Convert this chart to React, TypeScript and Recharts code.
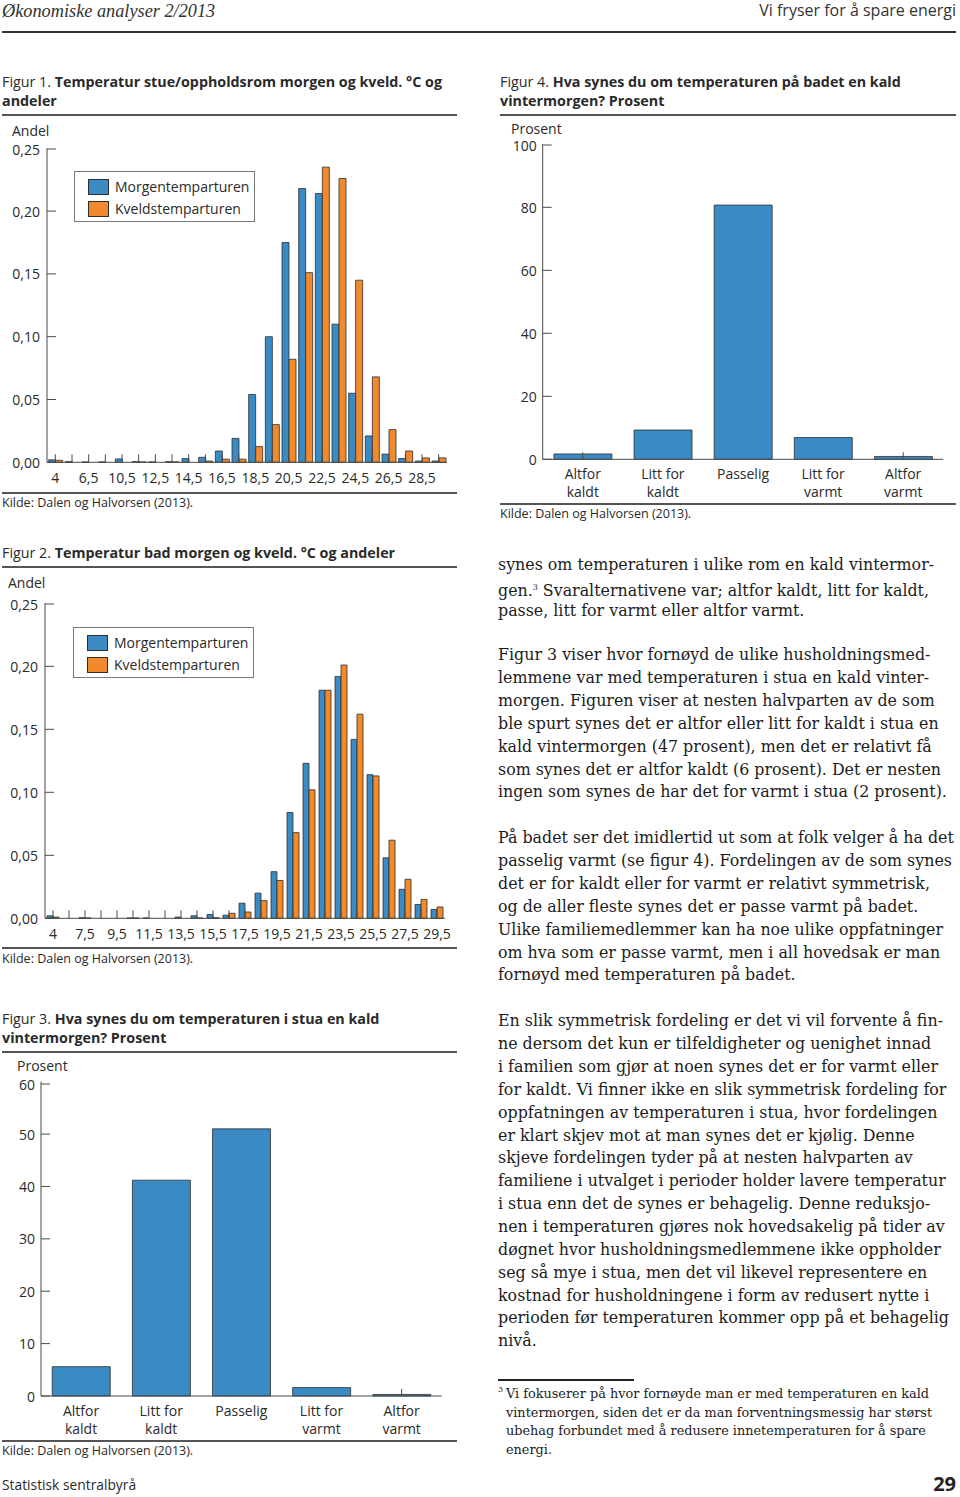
import React from 'react';
import { BarChart, Bar, XAxis, YAxis, Legend } from 'recharts';

// ---------- DATA ----------
const seriesNames = ['Morgentemparturen', 'Kveldstemparturen'];

const fig1Categories = ['4', '5', '6,5', '9,5', '10,5', '11,5', '12,5', '13,5', '14,5', '15,5', '16,5', '17,5', '18,5', '19,5', '20,5', '21,5', '22,5', '23,5', '24,5', '25,5', '26,5', '27,5', '28,5', '29,5'];
const fig1Morgen = [0.002, 0.0005, 0.0003, 0.0003, 0.0027, 0.0005, 0.0003, 0.0005, 0.003, 0.004, 0.009, 0.019, 0.054, 0.1, 0.175, 0.218, 0.214, 0.11, 0.055, 0.021, 0.0065, 0.003, 0.001, 0.001];
const fig1Kveld = [0.0016, 0, 0, 0, 0, 0.0003, 0, 0.0003, 0, 0.001, 0.0025, 0.0025, 0.0125, 0.03, 0.082, 0.151, 0.235, 0.226, 0.145, 0.068, 0.026, 0.009, 0.0035, 0.0035];

const fig2Categories = ['4', '6,5', '7,5', '8,5', '9,5', '10,5', '11,5', '12,5', '13,5', '14,5', '15,5', '16,5', '17,5', '18,5', '19,5', '20,5', '21,5', '22,5', '23,5', '24,5', '25,5', '26,5', '27,5', '28,5', '29,5'];
const fig2Morgen = [0.002, 0, 0.0005, 0, 0, 0.0003, 0.0003, 0, 0.001, 0.002, 0.003, 0.0025, 0.012, 0.02, 0.037, 0.084, 0.123, 0.181, 0.192, 0.142, 0.114, 0.048, 0.023, 0.011, 0.007];
const fig2Kveld = [0.001, 0, 0.0003, 0, 0, 0.0003, 0, 0, 0, 0.0003, 0.0005, 0.004, 0.005, 0.014, 0.03, 0.068, 0.102, 0.181, 0.201, 0.162, 0.113, 0.062, 0.031, 0.015, 0.009];

const andelTicks = [0, 0.05, 0.1, 0.15, 0.2, 0.25];

const opinionCategories = ['Altfor\nkaldt', 'Litt for\nkaldt', 'Passelig', 'Litt for\nvarmt', 'Altfor\nvarmt'];
const fig3Values = [5.6, 41.2, 51.0, 1.6, 0.3];
const fig3Ticks = [0, 10, 20, 30, 40, 50, 60];
const fig4Values = [1.7, 9.3, 80.7, 6.9, 0.9];
const fig4Ticks = [0, 20, 40, 60, 80, 100];

const fig1Data = fig1Categories.map((c, i) => ({ cat: c, morgen: fig1Morgen[i], kveld: fig1Kveld[i] }));
const fig2Data = fig2Categories.map((c, i) => ({ cat: c, morgen: fig2Morgen[i], kveld: fig2Kveld[i] }));
const fig3Data = opinionCategories.map((c, i) => ({ cat: c, value: fig3Values[i] }));
const fig4Data = opinionCategories.map((c, i) => ({ cat: c, value: fig4Values[i] }));

// ---------- STYLE ----------
const BLUE = '#3A8BC4';
const ORANGE = '#F08A2C';
const BAR_STROKE = '#2E2E2E';
const AXIS = '#4A4A4A';
const TXT = '#2A2A2A';
const SANS = '"Open Sans", "Noto Sans", sans-serif';
const SERIF = '"DejaVu Serif", serif';
const HEADSERIF = '"Liberation Serif", serif';

const fmtAndel = (v: number) => v.toFixed(2).replace('.', ',');
const fmtInt = (v: number) => String(v);

function makeYTick(fmt: (v: number) => string, gap: number) {
  return (props: any) => {
    const { x, y, payload } = props;
    return (
      <g>
        <line x1={x} x2={x + 9} y1={y} y2={y} stroke={AXIS} strokeWidth={1} />
        <text x={x - gap} y={y} textAnchor="end" dominantBaseline="central" fontSize={14} fill={TXT} fontFamily={SANS}>
          {fmt(payload.value)}
        </text>
      </g>
    );
  };
}

function makeHistXTick(categories: string[]) {
  return (props: any) => {
    const { x, y, payload } = props;
    const idx = categories.indexOf(payload.value);
    return (
      <g>
        <line x1={x} x2={x} y1={y} y2={y - 8} stroke={AXIS} strokeWidth={1} />
        {idx % 2 === 0 && (
          <text x={x} y={y + 15} textAnchor="middle" dominantBaseline="central" fontSize={14} fill={TXT} fontFamily={SANS}>
            {payload.value}
          </text>
        )}
      </g>
    );
  };
}

// Tick marks sit behind the bars in the original: only draw where the bar is lower than the tick.
function makeOpinionXTick(categories: string[], values: number[], max: number, plotH: number) {
  return (props: any) => {
    const { x, y, payload } = props;
    const idx = categories.indexOf(payload.value);
    const barPx = idx >= 0 ? (values[idx] / max) * plotH : 0;
    const lines = String(payload.value).split('\n');
    return (
      <g>
        {barPx < 7 && <line x1={x} x2={x} y1={y} y2={y - 7} stroke={AXIS} strokeWidth={1} />}
        {lines.map((l, i) => (
          <text key={i} x={x} y={y + 14 + i * 18} textAnchor="middle" dominantBaseline="central" fontSize={14} fill={TXT} fontFamily={SANS}>
            {l}
          </text>
        ))}
      </g>
    );
  };
}

const LegendBox = (props: any) => {
  const payload = [...(props.payload || [])].sort((a: any, b: any) => seriesNames.indexOf(a.value) - seriesNames.indexOf(b.value));
  return (
    <div style={{ width: 179, height: 49, border: '1px solid #7a7a7a', background: '#fff', position: 'relative', fontFamily: SANS, fontSize: 14, color: TXT }}>
      {payload.map((p: any, i: number) => (
        <div key={i} style={{ position: 'absolute', left: 13, top: 7 + i * 22, height: 16, display: 'flex', alignItems: 'center', whiteSpace: 'nowrap' }}>
          <span style={{ display: 'inline-block', width: 19, height: 14, background: p.color, border: `1px solid ${BAR_STROKE}`, marginRight: 6 }} />
          <span style={{ lineHeight: '16px' }}>{p.value}</span>
        </div>
      ))}
    </div>
  );
};

// ---------- TEXT ----------
const T = (p: { x: number; y: number; size: number; children: any; style?: any; right?: boolean }) => (
  <div
    style={{
      position: 'absolute',
      left: p.right ? undefined : p.x,
      right: p.right ? 960 - p.x : undefined,
      top: p.y - p.size * 0.55,
      fontSize: p.size,
      lineHeight: `${p.size * 1.1}px`,
      whiteSpace: 'nowrap',
      color: TXT,
      fontFamily: SANS,
      ...p.style,
    }}
  >
    {p.children}
  </div>
);

const HLine = (p: { x1: number; x2: number; y: number; w?: number; c?: string }) => (
  <div style={{ position: 'absolute', left: p.x1, width: p.x2 - p.x1, top: p.y - (p.w || 1.5) / 2, height: p.w || 1.5, background: p.c || '#555' }} />
);

const para1 = [
  'synes om temperaturen i ulike rom en kald vintermor-',
  'gen.³ Svaralternativene var; altfor kaldt, litt for kaldt,',
  'passe, litt for varmt eller altfor varmt.',
];
const para2 = [
  'Figur 3 viser hvor fornøyd de ulike husholdningsmed-',
  'lemmene var med temperaturen i stua en kald vinter-',
  'morgen. Figuren viser at nesten halvparten av de som',
  'ble spurt synes det er altfor eller litt for kaldt i stua en',
  'kald vintermorgen (47 prosent), men det er relativt få',
  'som synes det er altfor kaldt (6 prosent). Det er nesten',
  'ingen som synes de har det for varmt i stua (2 prosent).',
];
const para3 = [
  'På badet ser det imidlertid ut som at folk velger å ha det',
  'passelig varmt (se figur 4). Fordelingen av de som synes',
  'det er for kaldt eller for varmt er relativt symmetrisk,',
  'og de aller fleste synes det er passe varmt på badet.',
  'Ulike familiemedlemmer kan ha noe ulike oppfatninger',
  'om hva som er passe varmt, men i all hovedsak er man',
  'fornøyd med temperaturen på badet.',
];
const para4 = [
  'En slik symmetrisk fordeling er det vi vil forvente å fin-',
  'ne dersom det kun er tilfeldigheter og uenighet innad',
  'i familien som gjør at noen synes det er for varmt eller',
  'for kaldt. Vi finner ikke en slik symmetrisk fordeling for',
  'oppfatningen av temperaturen i stua, hvor fordelingen',
  'er klart skjev mot at man synes det er kjølig. Denne',
  'skjeve fordelingen tyder på at nesten halvparten av',
  'familiene i utvalget i perioder holder lavere temperatur',
  'i stua enn det de synes er behagelig. Denne reduksjo-',
  'nen i temperaturen gjøres nok hovedsakelig på tider av',
  'døgnet hvor husholdningsmedlemmene ikke oppholder',
  'seg så mye i stua, men det vil likevel representere en',
  'kostnad for husholdningene i form av redusert nytte i',
  'perioden før temperaturen kommer opp på et behagelig',
  'nivå.',
];
const footnote = [
  'Vi fokuserer på hvor fornøyde man er med temperaturen en kald',
  'vintermorgen, siden det er da man forventningsmessig har størst',
  'ubehag forbundet med å redusere innetemperaturen for å spare',
  'energi.',
];

const renderLine = (s: string) => {
  if (s.includes('³')) {
    const [a, b] = s.split('³');
    return (
      <>
        {a}
        <sup style={{ fontSize: '0.5em', verticalAlign: '0.7em' }}>3</sup>
        {b}
      </>
    );
  }
  return s;
};

const Para = ({ lines, y }: { lines: string[]; y: number }) => (
  <>
    {lines.map((l, i) => (
      <T key={i} x={498} y={y + i * 22.86} size={15.85} style={{ fontFamily: SERIF, color: '#1c1c1c' }}>
        {renderLine(l)}
      </T>
    ))}
  </>
);

// ---------- CHARTS ----------
function HistChart(props: { data: any[]; categories: string[]; left: number; top: number; yAxisW: number; mTop: number; mRight: number; plotBottom: number; gap: string; legendLeft: number; legendTop: number }) {
  const H = 360;
  const xH = 28;
  return (
    <div style={{ position: 'absolute', left: props.left, top: props.top }}>
      <BarChart width={460} height={H} data={props.data} margin={{ top: props.mTop, right: props.mRight, left: 0, bottom: H - props.plotBottom - xH }} barCategoryGap={props.gap} barGap={0}>
        <XAxis dataKey="cat" interval={0} height={xH} tickSize={0} tickMargin={0} axisLine={{ stroke: AXIS, strokeWidth: 1 }} tickLine={false} tick={makeHistXTick(props.categories)} />
        <YAxis width={props.yAxisW} domain={[0, 0.25]} ticks={andelTicks} tickSize={0} tickMargin={0} axisLine={{ stroke: AXIS, strokeWidth: 1 }} tickLine={false} tick={makeYTick(fmtAndel, 7)} />
        <Legend layout="vertical" align="center" verticalAlign="middle" wrapperStyle={{ left: props.legendLeft - props.left, top: props.legendTop - props.top, width: 'auto', height: 'auto' }} content={<LegendBox />} />
        <Bar dataKey="morgen" name={seriesNames[0]} fill={BLUE} stroke={BAR_STROKE} strokeWidth={0.8} isAnimationActive={false} />
        <Bar dataKey="kveld" name={seriesNames[1]} fill={ORANGE} stroke={BAR_STROKE} strokeWidth={0.8} isAnimationActive={false} />
      </BarChart>
    </div>
  );
}

function OpinionChart(props: { data: any[]; values: number[]; left: number; top: number; width: number; yAxisW: number; mTop: number; mRight: number; plotBottom: number; max: number; ticks: number[] }) {
  const H = 380;
  const xH = 50;
  const plotH = props.plotBottom - props.mTop;
  return (
    <div style={{ position: 'absolute', left: props.left, top: props.top }}>
      <BarChart width={props.width} height={H} data={props.data} margin={{ top: props.mTop, right: props.mRight, left: 0, bottom: H - props.plotBottom - xH }} barCategoryGap="14%">
        <XAxis dataKey="cat" interval={0} height={xH} tickSize={0} tickMargin={0} axisLine={{ stroke: AXIS, strokeWidth: 1 }} tickLine={false} tick={makeOpinionXTick(opinionCategories, props.values, props.max, plotH)} />
        <YAxis width={props.yAxisW} domain={[0, props.max]} ticks={props.ticks} tickSize={0} tickMargin={0} axisLine={{ stroke: AXIS, strokeWidth: 1 }} tickLine={false} tick={makeYTick(fmtInt, 6)} />
        <Bar dataKey="value" fill={BLUE} stroke={BAR_STROKE} strokeWidth={0.8} isAnimationActive={false} />
      </BarChart>
    </div>
  );
}

export default function App() {
  return (
    <div style={{ position: 'absolute', left: 0, top: 0, width: 960, height: 1497, background: '#fff', overflow: 'hidden' }}>
      {/* Header */}
      <T x={2} y={11} size={18.3} style={{ fontFamily: HEADSERIF, fontStyle: 'italic', color: '#333' }}>Økonomiske analyser 2/2013</T>
      <T x={956} y={11} size={16} right style={{ fontFamily: '"Liberation Sans Narrow", "Open Sans", sans-serif', color: '#333' }}>Vi fryser for å spare energi</T>
      <HLine x1={2} x2={956} y={32} w={2} c="#333" />

      {/* Figure 1 */}
      <T x={2} y={82} size={14.3}>Figur 1. <b>Temperatur stue/oppholdsrom morgen og kveld. °C og</b></T>
      <T x={2} y={101} size={14.3}><b>andeler</b></T>
      <HLine x1={2} x2={457} y={115} />
      <T x={12} y={131} size={14}>Andel</T>
      <HistChart data={fig1Data} categories={fig1Categories} left={0} top={140} yAxisW={47} mTop={8.3} mRight={13} plotBottom={322.3} gap="10%" legendLeft={74} legendTop={171} />
      <HLine x1={2} x2={457} y={493} />
      <T x={2} y={503} size={12.5}>Kilde: Dalen og Halvorsen (2013).</T>

      {/* Figure 2 */}
      <T x={2} y={553} size={14.3}>Figur 2. <b>Temperatur bad morgen og kveld. °C og andeler</b></T>
      <HLine x1={2} x2={457} y={567} />
      <T x={8} y={583} size={14}>Andel</T>
      <HistChart data={fig2Data} categories={fig2Categories} left={0} top={595} yAxisW={45} mTop={8.3} mRight={15} plotBottom={323.3} gap="12.5%" legendLeft={73} legendTop={627} />
      <HLine x1={2} x2={457} y={948} />
      <T x={2} y={959} size={12.5}>Kilde: Dalen og Halvorsen (2013).</T>

      {/* Figure 3 */}
      <T x={2} y={1019} size={14.3}>Figur 3. <b>Hva synes du om temperaturen i stua en kald</b></T>
      <T x={2} y={1038} size={14.3}><b>vintermorgen? Prosent</b></T>
      <HLine x1={2} x2={457} y={1052} />
      <T x={17} y={1066} size={14}>Prosent</T>
      <OpinionChart data={fig3Data} values={fig3Values} left={0} top={1075} width={460} yAxisW={41} mTop={6.7} mRight={18.3} plotBottom={321} max={60} ticks={fig3Ticks} />
      <HLine x1={2} x2={457} y={1441} />
      <T x={2} y={1451} size={12.5}>Kilde: Dalen og Halvorsen (2013).</T>

      {/* Figure 4 */}
      <T x={500} y={82} size={14.3}>Figur 4. <b>Hva synes du om temperaturen på badet en kald</b></T>
      <T x={500} y={101} size={14.3}><b>vintermorgen? Prosent</b></T>
      <HLine x1={500} x2={956} y={115} />
      <T x={511} y={129} size={14}>Prosent</T>
      <OpinionChart data={fig4Data} values={fig4Values} left={495} top={136} width={465} yAxisW={47.7} mTop={8.3} mRight={16.7} plotBottom={323.3} max={100} ticks={fig4Ticks} />
      <HLine x1={500} x2={956} y={504} />
      <T x={500} y={514} size={12.5}>Kilde: Dalen og Halvorsen (2013).</T>

      {/* Body text */}
      <Para lines={para1} y={565} />
      <Para lines={para2} y={655} />
      <Para lines={para3} y={838} />
      <Para lines={para4} y={1021} />

      <HLine x1={498} x2={634} y={1380} w={2} c="#222" />
      <T x={498} y={1390} size={8} style={{ fontFamily: SERIF }}>3</T>
      {footnote.map((l, i) => (
        <T key={i} x={506} y={1394 + i * 18.6} size={12.85} style={{ fontFamily: SERIF, color: '#1c1c1c' }}>{l}</T>
      ))}

      {/* Footer */}
      <T x={2} y={1485} size={13.8}>Statistisk sentralbyrå</T>
      <T x={956} y={1484} size={20} right style={{ fontWeight: 700, color: '#222' }}>29</T>
    </div>
  );
}
